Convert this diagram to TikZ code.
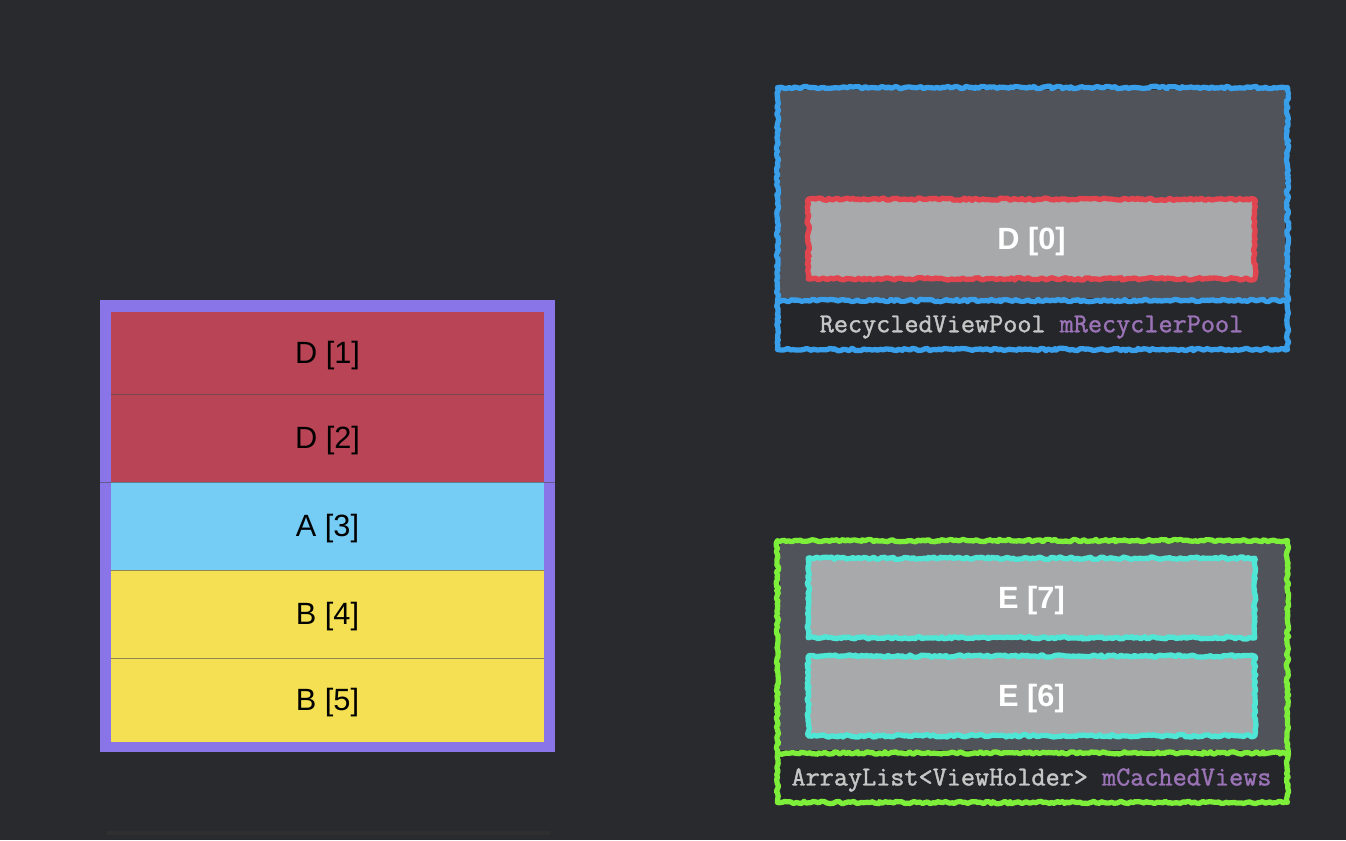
\documentclass[tikz,border=0pt]{standalone}
\usepackage{fontspec}
\setsansfont{Liberation Sans}
\newfontfamily\codefont[FakeBold=1.4]{Latin Modern Mono}
\usetikzlibrary{positioning, decorations.pathmorphing}
\definecolor{bg}{HTML}{292A2D}
\definecolor{listedge}{HTML}{8A75E8}
\definecolor{rowred}{HTML}{B84455}
\definecolor{rowblue}{HTML}{75CDF5}
\definecolor{rowyellow}{HTML}{F4E052}
\definecolor{panel}{HTML}{505359}
\definecolor{labelbg}{HTML}{25262A}
\definecolor{poolblue}{HTML}{3A9FEA}
\definecolor{recred}{HTML}{E1454F}
\definecolor{viewgrey}{HTML}{A7A9AA}
\definecolor{cachegreen}{HTML}{7DEE3A}
\definecolor{cachecyan}{HTML}{4FE6D6}
\definecolor{codegrey}{HTML}{C6C6C6}
\definecolor{codepurple}{HTML}{9A72B6}
\begin{document}
\begin{tikzpicture}[x=0.02cm, y=-0.02cm]
                \tikzset{row/.style={rectangle, inner sep=0pt, minimum width=8.66cm, text height=12.5pt, text depth=0pt, font=\sffamily\fontsize{17.5}{20}\selectfont, text=black},
                    sep/.style={draw=black!70, opacity=0.6, line width=0.8pt},
                    rough/.style={decorate, decoration={random steps, segment length=1.5pt, amplitude=0.7pt}, line width=3pt, line join=round},
                    viewbox/.style={rectangle, inner sep=0pt, minimum width=8.92cm, minimum height=1.58cm, text height=12.5pt, text depth=0pt, fill=viewgrey, text=white, font=\sffamily\bfseries\fontsize{17.5}{20}\selectfont},
                    codelabel/.style={inner sep=0pt, font=\codefont\bfseries\fontsize{15.6}{18}\selectfont}};
                \fill[bg] (0,0) rectangle (1346,840);
                \useasboundingbox (0,0) rectangle (1346,840);
                % the list on the left
                \fill[listedge] (100,300) rectangle (555,752);
                \node[row, fill=rowred, minimum height=1.64cm] (d1) at (327.5,353) {D [1]};
                \node[row, fill=rowred, minimum height=1.76cm] (d2) at (327.5,438) {D [2]};
                \node[row, fill=rowblue, minimum height=1.76cm] (a3) at (327.5,526) {A [3]};
                \node[row, fill=rowyellow, minimum height=1.76cm] (b4) at (327.5,614) {B [4]};
                \node[row, fill=rowyellow, minimum height=1.68cm] (b5) at (327.5,700) {B [5]};
                \draw[sep] (d1.south west) -- (d1.south east);
                \draw[sep] ([xshift=-0.22cm]d2.south west) -- ([xshift=0.22cm]d2.south east);
                \draw[sep] (a3.south west) -- (a3.south east);
                \draw[sep] (b4.south west) -- (b4.south east);
                \coordinate (shelfl) at (107,833);
                \coordinate (shelfr) at (550,833);
                \draw[black!80, line width=2pt, opacity=0.6] (shelfl) -- (shelfr);
                % recycler pool
                \fill[panel] (780,90) rectangle (1285,298);
                \fill[labelbg] (780,304) rectangle (1285,347);
                \draw[rough, poolblue] (777.5,87.5) rectangle (1287.5,349.5);
                \draw[rough, poolblue] (777.5,300.5) -- (1287.5,300.5);
                \node[viewbox] (d0) at (1031.5,239) {D [0]};
                \draw[rough, recred] (d0.south west) rectangle (d0.north east);
                \node[codelabel] (poolname) at (1031.5,327) {\textcolor{codegrey}{RecycledViewPool} \textcolor{codepurple}{mRecyclerPool}};
                % cached views
                \fill[panel] (780,543) rectangle (1285,750);
                \fill[labelbg] (780,757) rectangle (1285,800);
                \draw[rough, cachegreen] (777.5,540.5) rectangle (1287.5,802.5);
                \draw[rough, cachegreen] (777.5,753) -- (1287.5,753);
                \node[viewbox] (e7) at (1031.5,598) {E [7]};
                \node[viewbox] (e6) at (1031.5,696) {E [6]};
                \draw[rough, cachecyan] (e7.south west) rectangle (e7.north east);
                \draw[rough, cachecyan] (e6.south west) rectangle (e6.north east);
                \node[codelabel] (cachename) at (1031.5,780) {\textcolor{codegrey}{ArrayList<ViewHolder>} \textcolor{codepurple}{mCachedViews}};
            \end{tikzpicture}
\end{document}
